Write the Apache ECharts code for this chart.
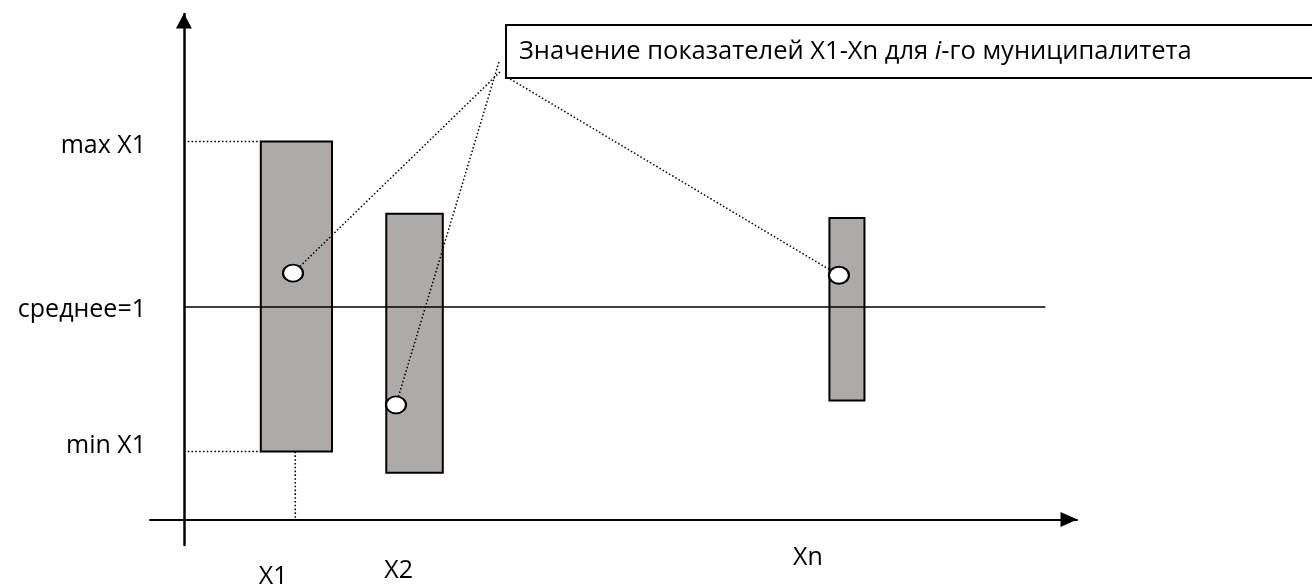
<!DOCTYPE html>
<html>
<head>
<meta charset="utf-8">
<script src="https://cdn.jsdelivr.net/npm/echarts@6/dist/echarts.min.js"></script>
<style>
  html, body { margin: 0; padding: 0; background: #fff; }
  #chart { width: 1312px; height: 585px; }
</style>
</head>
<body>
<div id="chart"></div>
<script>
// показатели и их диапазоны [x левый, x правый, min, max]
var indicators = ['X1', 'X2', 'Xn'];
var ranges = [
    [0.68, 1.31, 0.32, 1.78],
    [1.79, 2.29, 0.22, 1.44],
    [5.71, 6.02, 0.56, 1.42]
];
// значения для i-го муниципалитета
var points = [[0.965, 1.16], [1.876, 0.54], [5.794, 1.15]];
// откуда идут выноски (угол подписи)
var leaderFrom = [[2.796, 2.107], [2.787, 2.154], [2.858, 2.083]];
var meanValue = 1;
var meanEnd = 7.62;
var yLabelValues = [0.32, 1, 1.78];
var yLabelTexts = ['min X1', 'среднее=1', 'max X1'];
var xLabelValues = [0.79, 1.90, 5.52];
var calloutText = 'Значение показателей X1-Xn для ';

var font = 'Open Sans';
var chart = echarts.init(document.getElementById('chart'));

var leaders = points.map(function (p, i) {
    return { coords: [leaderFrom[i], p] };
});

function txt(pad) {
    return { fontFamily: font, fontSize: 25, color: '#000', padding: pad };
}

chart.setOption({
    animation: false,
    grid: { left: 150, right: 235, top: 14, bottom: 40, containLabel: false, outerBoundsMode: 'none' },
    xAxis: {
        type: 'value', min: -0.3, max: 7.9,
        splitLine: { show: false },
        axisTick: { show: false },
        axisLine: {
            onZero: true,
            symbol: ['none', 'triangle'],
            symbolSize: [15, 17],
            symbolOffset: [0, -8],
            lineStyle: { color: '#000', width: 2 }
        },
        axisLabel: {
            customValues: xLabelValues,
            margin: 0,
            hideOverlap: false,
            formatter: function (v) {
                var i = xLabelValues.indexOf(v);
                return '{l' + i + '|' + indicators[i] + '}';
            },
            rich: {
                l0: txt([19, 0, 0, 0]),
                l1: txt([13, 0, 0, 0]),
                l2: txt([0, 0, 0, 0])
            }
        }
    },
    yAxis: {
        type: 'value', min: -0.12, max: 2.38,
        splitLine: { show: false },
        axisTick: { show: false },
        axisLine: {
            onZero: true,
            symbol: ['none', 'triangle'],
            symbolSize: [16, 15],
            symbolOffset: [0, -7],
            lineStyle: { color: '#000', width: 2.5 }
        },
        axisLabel: {
            customValues: yLabelValues,
            margin: 4,
            hideOverlap: false,
            formatter: function (v) {
                var i = yLabelValues.indexOf(v);
                return '{l' + i + '|' + yLabelTexts[i] + '}';
            },
            rich: {
                l0: txt([0, 0, 12, 0]),
                l1: txt([6, 0, 0, 0]),
                l2: txt([8, 0, 0, 0])
            }
        }
    },
    graphic: [{
        type: 'rect',
        shape: { x: 506, y: 25, width: 830, height: 53 },
        style: { fill: '#fff', stroke: '#000', lineWidth: 2 },
        z: 10
    }, {
        type: 'text',
        x: 519, y: 52,
        style: {
            text: '{a|' + calloutText + '}{b|i}{a|-го муниципалитета}',
            verticalAlign: 'middle',
            rich: {
                a: { fontFamily: font, fontSize: 25.5, fill: '#000' },
                b: { fontFamily: font, fontSize: 25.5, fill: '#000', fontStyle: 'italic' }
            }
        },
        z: 11
    }],
    series: [{
        // диапазоны показателей
        type: 'custom',
        renderItem: function (params, api) {
            var lt = api.coord([api.value(0), api.value(3)]);
            var rb = api.coord([api.value(1), api.value(2)]);
            return {
                type: 'rect',
                shape: { x: lt[0], y: lt[1], width: rb[0] - lt[0], height: rb[1] - lt[1] },
                style: { fill: '#aeaaaa', stroke: '#000', lineWidth: 2 }
            };
        },
        encode: { x: [0, 1], y: [2, 3] },
        data: ranges,
        z: 2
    }, {
        // среднее
        type: 'line',
        data: [[0, meanValue], [meanEnd, meanValue]],
        symbol: 'none',
        lineStyle: { color: '#000', width: 1.5 },
        z: 3
    }, {
        // пунктир max / min X1
        type: 'line',
        data: [[0, ranges[0][3]], [ranges[0][0], ranges[0][3]], null,
               [0, ranges[0][2]], [ranges[0][0], ranges[0][2]], null,
               [points[0][0] + 0.02, ranges[0][2]], [points[0][0] + 0.02, 0]],
        connectNulls: false,
        symbol: 'none',
        lineStyle: { color: '#000', width: 1.6, type: [1.6, 2.2] },
        z: 3
    }, {
        // выноски
        type: 'lines',
        coordinateSystem: 'cartesian2d',
        data: leaders,
        lineStyle: { color: '#000', width: 1.5, type: [1.5, 2.2], opacity: 1 },
        z: 4
    }, {
        type: 'scatter',
        data: points,
        symbol: 'circle',
        symbolSize: [20, 17],
        itemStyle: { color: '#fff', borderColor: '#000', borderWidth: 2, opacity: 1 },
        z: 5
    }]
});
</script>
</body>
</html>
